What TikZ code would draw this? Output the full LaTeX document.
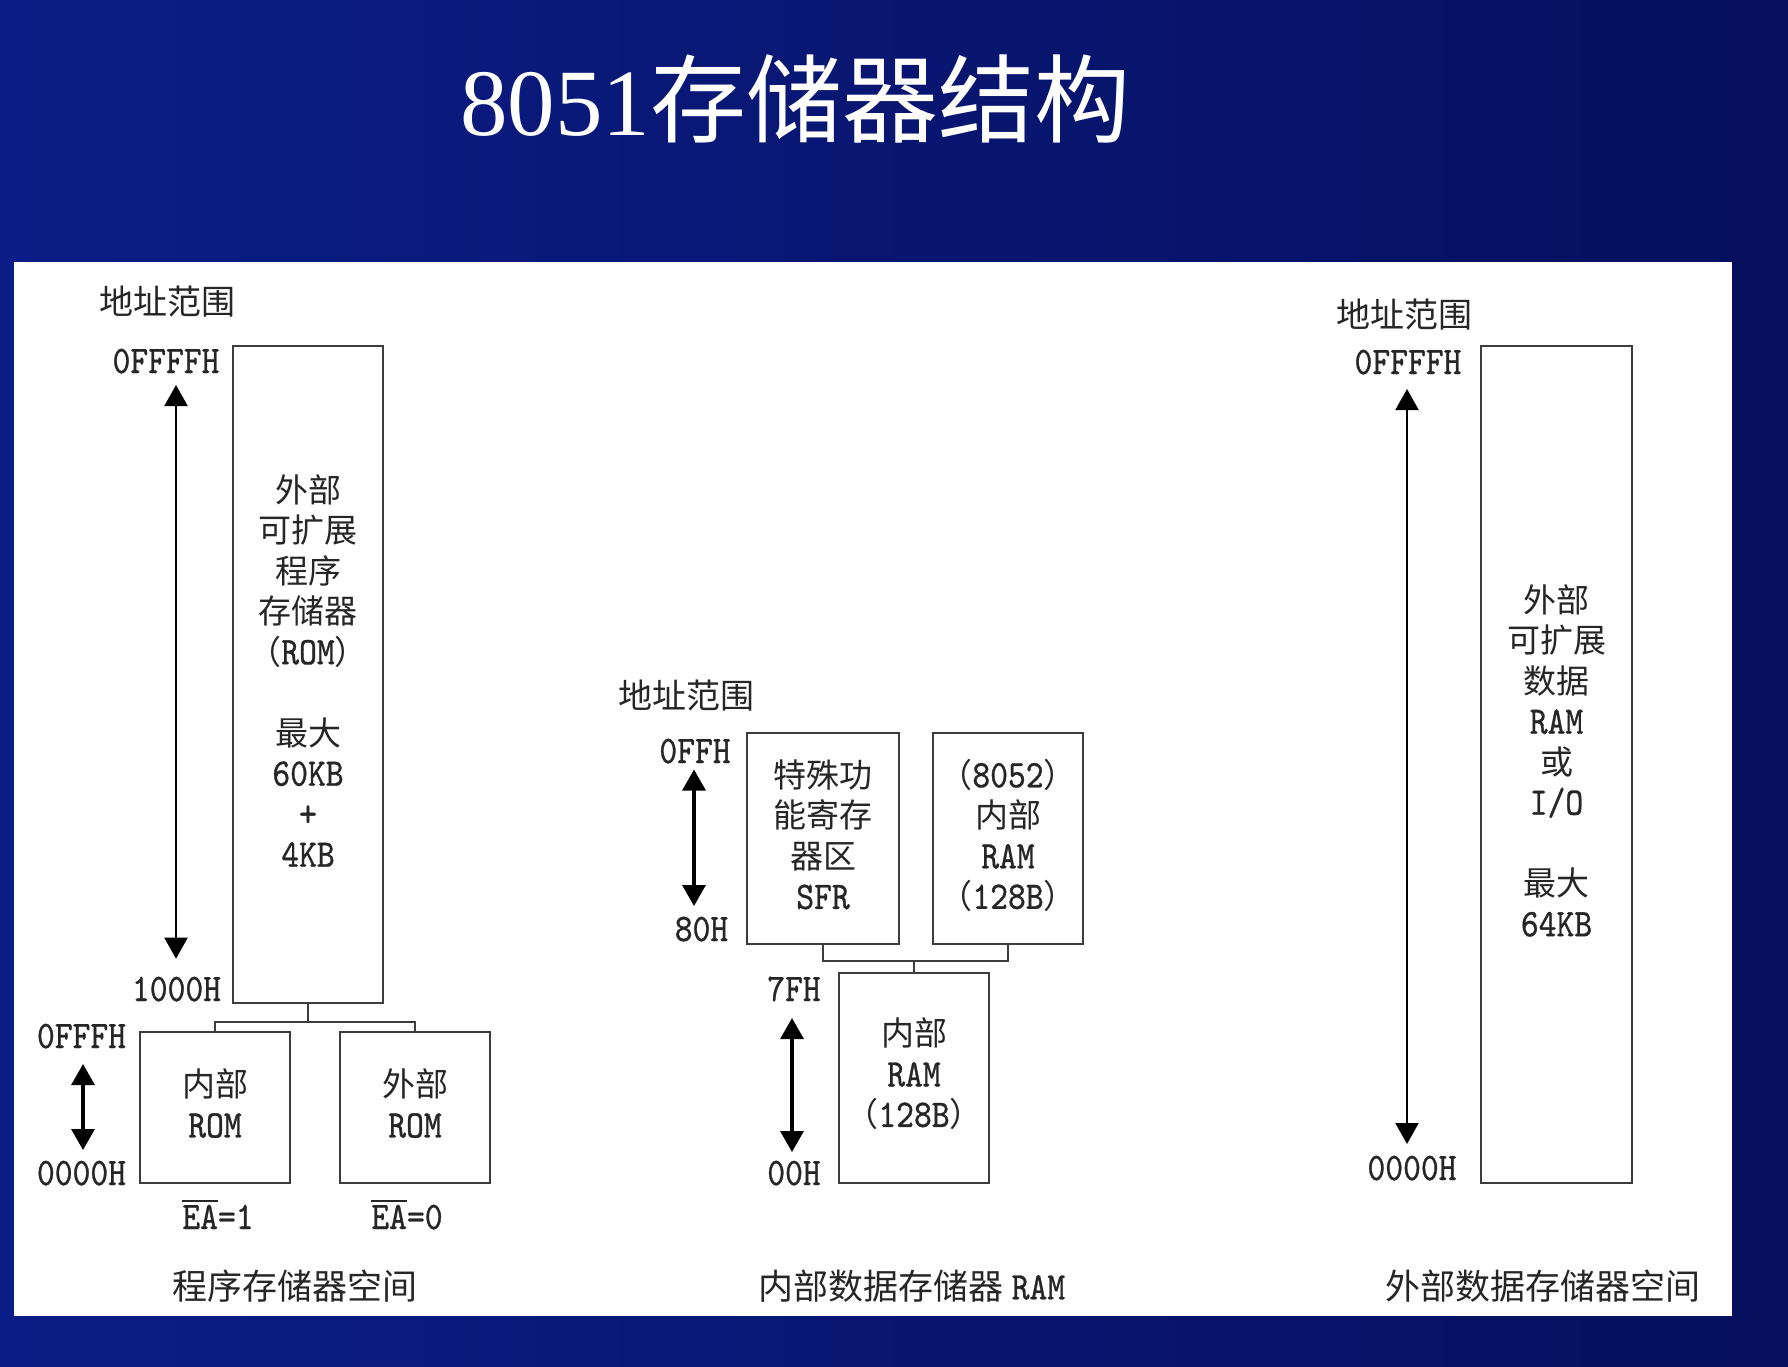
\documentclass[tikz,border=0pt]{standalone}
\usepackage{fontspec}
\usetikzlibrary{arrows.meta}
\setmainfont{Noto Sans CJK SC}
\newfontfamily\latf{lmmono10-regular.otf}[FakeStretch=0.87,FakeBold=0.8]
\newfontfamily\titlelat{Liberation Serif}
\definecolor{bgleft}{HTML}{0B1D86}
\definecolor{bgright}{HTML}{06105E}
\definecolor{ink}{HTML}{262626}
\definecolor{frame}{HTML}{3C3C3C}
% Latin text in the half-width typewriter face
\newcommand\ltx[1]{{\latf\fontsize{39}{40.5}\selectfont #1}}
% overlined signal name
\newcommand\ovl[1]{\leavevmode\vbox{\hrule height 1.8pt\kern 2.5pt\hbox{#1}}}
\tikzset{
  every node/.style={inner sep=0pt, outer sep=0pt, text=ink},
  membox/.style={draw=frame, line width=2.4pt, fill=white},
  boxtext/.style={align=center, font=\fontsize{33}{40.5}\selectfont},
  cjklabel/.style={font=\fontsize{34}{40}\selectfont},
  caption/.style={font=\fontsize{35}{40}\selectfont},
  addr/.style={font=\latf\fontsize{39}{40}\selectfont},
  conn/.style={draw=frame, line width=2.2pt},
  span/.style={draw=black, line width=2.2pt,
    {Triangle[width=23pt,length=21pt]}-{Triangle[width=23pt,length=21pt]}},
  spanthick/.style={span, line width=3.2pt},
}
\begin{document}
\begin{tikzpicture}[x=1pt, y=-1pt]
\useasboundingbox (0,0) rectangle (1788,1366);
% slide background and white panel
\shade[left color=bgleft, right color=bgright] (0,0) rectangle (1788,1366);
\fill[white] (14,262) rectangle (1732,1316);

% title
\node[anchor=base west, text=white] (title) at (460,135)
  {{\titlelat\fontsize{95}{100}\selectfont 8051}{\fontsize{96}{100}\selectfont 存储器结构}};

% ---------------- program memory ----------------
\node[cjklabel] (hdA) at (167,302) {地址范围};
\node[membox, minimum width=150pt, minimum height=657pt] (rom) at (308,674.5) {};
\node[boxtext] (romt) at ([yshift=4pt]rom.center)
  {外部\\可扩展\\程序\\存储器\\（\ltx{ROM}）\\[40.5pt]最大\\\ltx{60KB}\\\ltx{+}\\\ltx{4KB}};
\node[membox, minimum width=150pt, minimum height=151pt] (irom) at (215,1107.5) {};
\node[boxtext] (iromt) at ([yshift=4pt]irom.center) {内部\\\ltx{ROM}};
\node[membox, minimum width=150pt, minimum height=151pt] (xrom) at (415,1107.5) {};
\node[boxtext] (xromt) at ([yshift=4pt]xrom.center) {外部\\\ltx{ROM}};
\coordinate (jl) at (308,1022);
\draw[conn] (rom.south) -- (jl);
\draw[conn] (irom.north) |- (jl) -| (xrom.north);

\node[addr, anchor=base] (aFFFF) at (166,373) {0FFFFH};
\node[addr, anchor=base] (a1000) at (176.5,1001) {1000H};
\node[addr, anchor=base] (aFFF) at (81.5,1048) {0FFFH};
\node[addr, anchor=base] (a0000) at (81.5,1185) {0000H};
\coordinate (pa1) at (176,385);
\coordinate (pa2) at (176,958.7);
\draw[span] (pa1) -- (pa2);
\coordinate (pb1) at (83,1064);
\coordinate (pb2) at (83,1150);
\draw[spanthick] (pb1) -- (pb2);

\node[addr, anchor=base] (ea1) at (218,1229) {\ovl{EA}=1};
\node[addr, anchor=base] (ea0) at (407,1229) {\ovl{EA}=0};
\node[caption] (capA) at (295,1286) {程序存储器空间};

% ---------------- internal data memory ----------------
\node[cjklabel] (hdB) at (686,696) {地址范围};
\node[membox, minimum width=152pt, minimum height=211pt] (sfr) at (823,838.5) {};
\node[boxtext] (sfrt) at ([yshift=4pt]sfr.center) {特殊功\\能寄存\\器区\\\ltx{SFR}};
\node[membox, minimum width=150pt, minimum height=211pt] (r8052) at (1008,838.5) {};
\node[boxtext] (r8052t) at ([yshift=3pt]r8052.center)
  {（\ltx{8052}）\\内部\\\ltx{RAM}\\（\ltx{128B}）};
\node[membox, minimum width=150pt, minimum height=210pt] (iram) at (914,1078) {};
\node[boxtext] (iramt) at ([yshift=4pt]iram.center) {内部\\\ltx{RAM}\\（\ltx{128B}）};
\coordinate (jm) at (914,961);
\draw[conn] (sfr.south) |- (jm) -| (r8052.south);
\draw[conn] (jm) -- (iram.north);

\node[addr, anchor=base] (aFF) at (695,763) {0FFH};
\node[addr, anchor=base] (a80) at (701.5,941) {80H};
\node[addr, anchor=base] (a7F) at (794,1001) {7FH};
\node[addr, anchor=base] (a00) at (794,1185) {00H};
\coordinate (pc1) at (694,769.5);
\coordinate (pc2) at (694,906);
\draw[spanthick] (pc1) -- (pc2);
\coordinate (pd1) at (792,1018);
\coordinate (pd2) at (792,1152);
\draw[spanthick] (pd1) -- (pd2);
\node[caption] (capB) at (912,1286) {内部数据存储器 \ltx{RAM}};

% ---------------- external data memory ----------------
\node[cjklabel] (hdC) at (1404,315) {地址范围};
\node[membox, minimum width=151pt, minimum height=837pt] (xram) at (1556.5,764.5) {};
\node[boxtext] (xramt) at ([yshift=4pt]xram.center)
  {外部\\可扩展\\数据\\\ltx{RAM}\\或\\\ltx{I/O}\\[40.5pt]最大\\\ltx{64KB}};
\node[addr, anchor=base] (xFFFF) at (1408,374) {0FFFFH};
\node[addr, anchor=base] (x0000) at (1412,1180) {0000H};
\coordinate (pe1) at (1407,389);
\coordinate (pe2) at (1407,1144);
\draw[span] (pe1) -- (pe2);
\node[caption] (capC) at (1543,1286) {外部数据存储器空间};
\end{tikzpicture}
\end{document}
